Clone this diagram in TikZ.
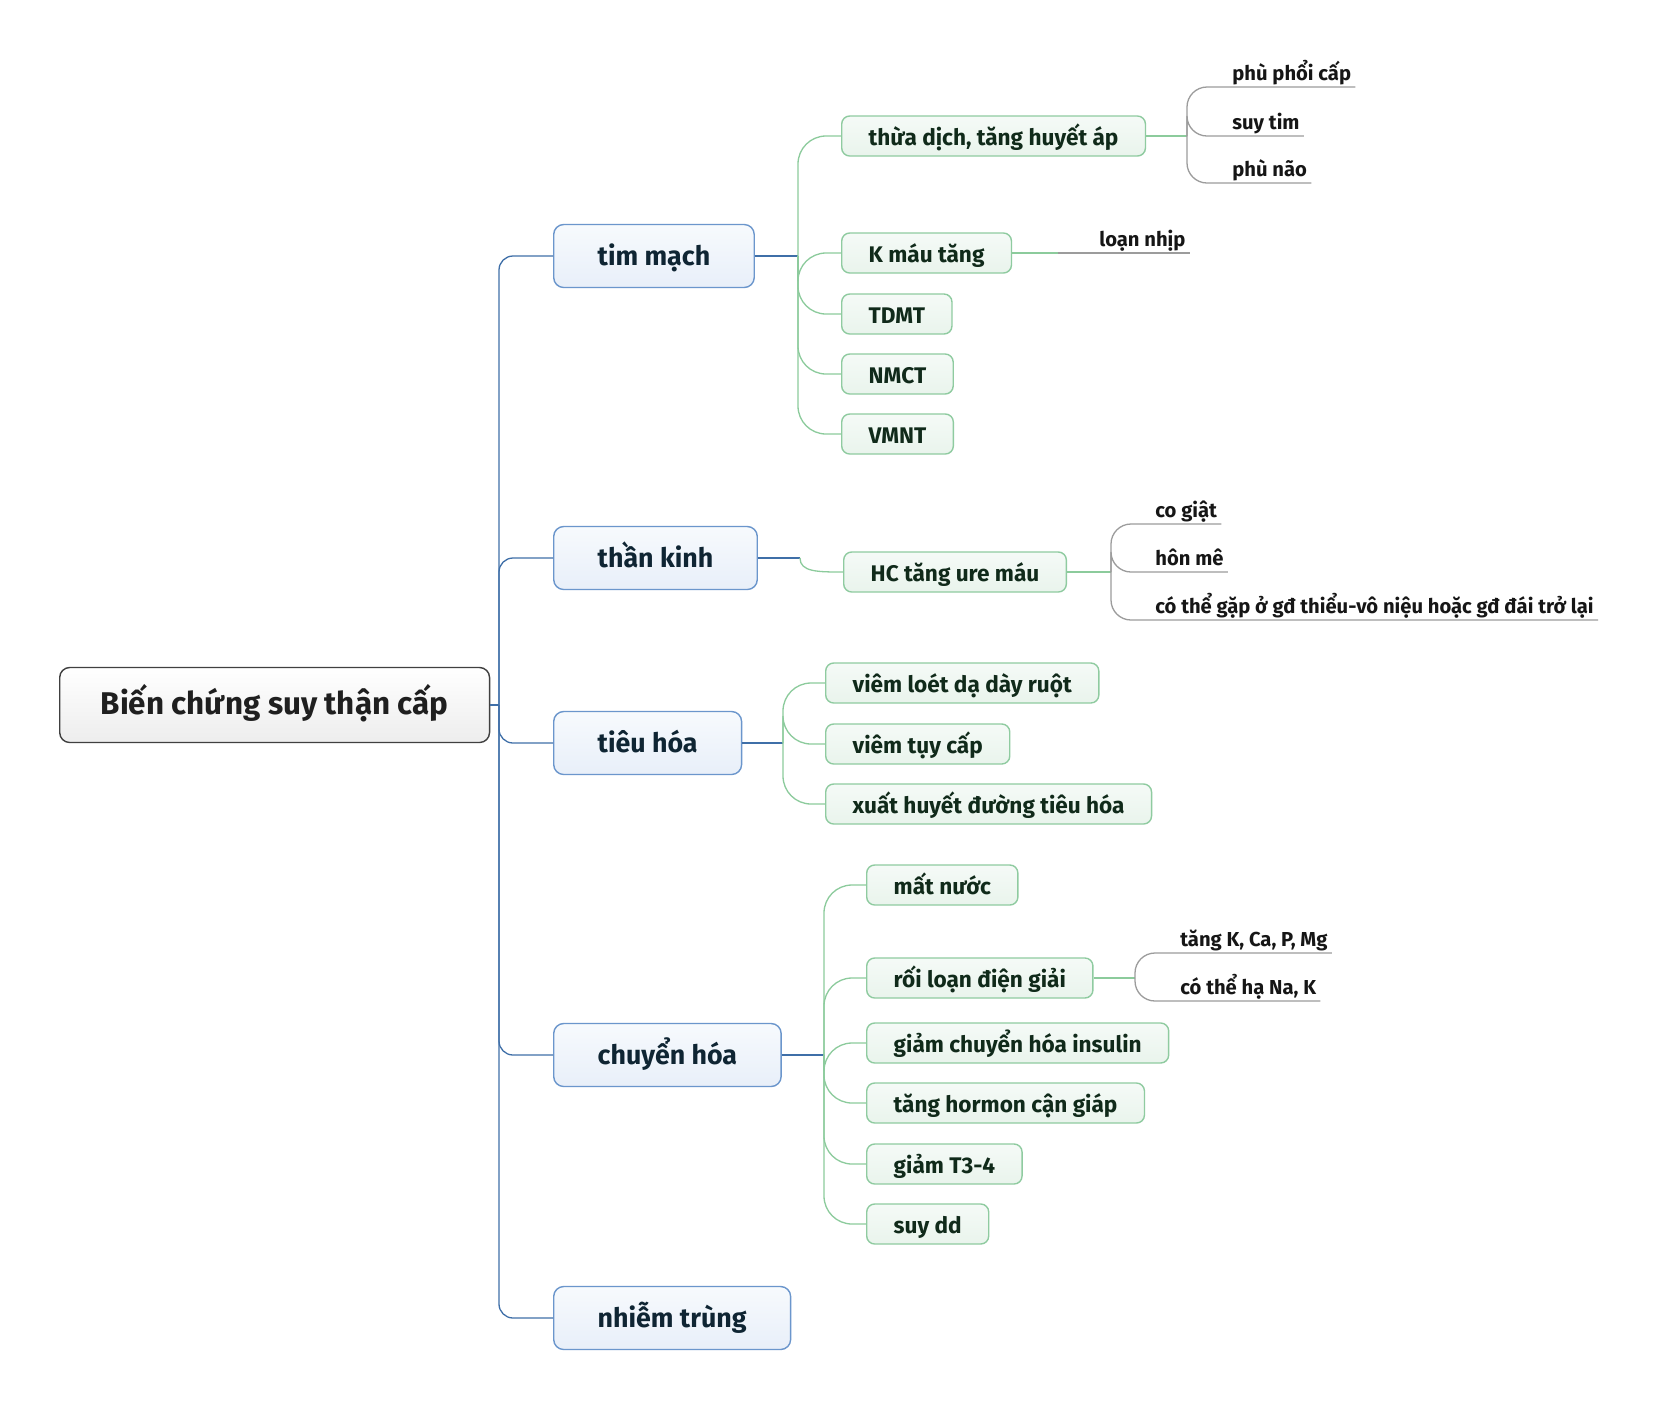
\documentclass[tikz,border=0pt]{standalone}
\usepackage{fontspec}
\setmainfont{Fira Sans}
\usetikzlibrary{positioning,calc}

\definecolor{rootline}{HTML}{404040}
\definecolor{rootfill}{HTML}{EDEDED}
\definecolor{roottext}{HTML}{1F1F1F}
\definecolor{mainline}{HTML}{6B96CC}
\definecolor{maintop}{HTML}{F7FAFD}
\definecolor{mainfill}{HTML}{E8EFF9}
\definecolor{maintext}{HTML}{0F2533}
\definecolor{bluelink}{HTML}{3F6FA8}
\definecolor{subline}{HTML}{8FCBA0}
\definecolor{subtop}{HTML}{F5FAF7}
\definecolor{subfill}{HTML}{E9F4EC}
\definecolor{subtext}{HTML}{102A1A}
\definecolor{greenlink}{HTML}{8CCB9C}
\definecolor{greylink}{HTML}{9C9C9C}
\definecolor{leaftext}{HTML}{161616}

\begin{document}
\begin{tikzpicture}[x=0.5pt, y=-0.5pt,
            every node/.style = {inner ysep=0pt, text height=0.9em, text depth=0pt},
            rootbox/.style = {draw=rootline, line width=0.7pt, rounded corners=5pt,
                    top color=white, bottom color=rootfill, minimum height=37.5pt,
                    inner xsep=20.5pt, font=\bfseries\fontsize{15.7}{19}\selectfont,
                    text=roottext, anchor=west},
            mainbox/.style = {draw=mainline, line width=0.7pt, rounded corners=5pt,
                    top color=maintop, bottom color=mainfill, minimum height=31.5pt,
                    inner xsep=22pt, font=\bfseries\fontsize{13.4}{16}\selectfont,
                    text=maintext, anchor=west},
            subbox/.style = {draw=subline, line width=0.7pt, rounded corners=4pt,
                    top color=subtop, bottom color=subfill, minimum height=20pt,
                    inner xsep=13.5pt, font=\bfseries\fontsize{11.3}{13}\selectfont,
                    text=subtext, anchor=west},
            leaf/.style = {inner xsep=0pt, inner ysep=1.5pt, text height=0.72em,
                    text depth=1.5pt, font=\bfseries\fontsize{10.1}{12}\selectfont,
                    text=leaftext, anchor=south west},
            blue link/.style = {draw=bluelink, line width=0.65pt, rounded corners=7pt},
            green link/.style = {draw=greenlink, line width=0.65pt, rounded corners=14pt},
            grey link/.style = {draw=greylink, line width=0.65pt, rounded corners=10pt},
        ]

        \fill[white] (0,0) rectangle (1662,1410);
        \useasboundingbox (0,0) rectangle (1662,1410);

        \node[rootbox] (root) at (59,705) {Biến chứng suy thận cấp};

        \node[mainbox] (tm) at (553,256) {tim mạch};
        \node[mainbox] (tk) at (553,558) {thần kinh};
        \node[mainbox] (th) at (553,743) {tiêu hóa};
        \node[mainbox] (ch) at (553,1055) {chuyển hóa};
        \node[mainbox] (nt) at (553,1318) {nhiễm trùng};

        \node[subbox] (td) at (841,136) {thừa dịch, tăng huyết áp};
        \node[subbox] (km) at (841,253) {K máu tăng};
        \node[subbox] (tdmt) at (841,314) {TDMT};
        \node[subbox] (nmct) at (841,374) {NMCT};
        \node[subbox] (vmnt) at (841,434) {VMNT};

        \node[subbox] (hc) at (843,572) {HC tăng ure máu};

        \node[subbox] (vl) at (825,683) {viêm loét dạ dày ruột};
        \node[subbox] (vt) at (825,744) {viêm tụy cấp};
        \node[subbox] (xh) at (825,804) {xuất huyết đường tiêu hóa};

        \node[subbox] (mn) at (866,885) {mất nước};
        \node[subbox] (rl) at (866,978) {rối loạn điện giải};
        \node[subbox] (gc) at (866,1043) {giảm chuyển hóa insulin};
        \node[subbox] (tg) at (866,1103) {tăng hormon cận giáp};
        \node[subbox] (gt) at (866,1164) {giảm T3-4};
        \node[subbox] (sd) at (866,1224) {suy dd};

        \node[leaf] (ppc) at (1232,87) {phù phổi cấp};
        \node[leaf] (st) at (1232,136) {suy tim};
        \node[leaf] (pn) at (1232,183) {phù não};
        \node[leaf] (ln) at (1099,253) {loạn nhịp};
        \node[leaf] (cg) at (1155,524) {co giật};
        \node[leaf] (hm) at (1155,572) {hôn mê};
        \node[leaf] (ct) at (1155,620) {có thể gặp ở gđ thiểu-vô niệu hoặc gđ đái trở lại};
        \node[leaf] (tk2) at (1180,953) {tăng K, Ca, P, Mg};
        \node[leaf] (hn) at (1180,1001) {có thể hạ Na, K};

        \coordinate (root-j) at (499,705);
        \coordinate (tm-j) at (798,256);
        \coordinate (tk-j) at (800,558);
        \coordinate (th-j) at (783,743);
        \coordinate (ch-j) at (824,1055);
        \coordinate (td-j) at (1187,136);
        \coordinate (km-j) at (1058,253);
        \coordinate (hc-j) at (1111,572);
        \coordinate (rl-j) at (1135,978);

        \foreach \p/\s in {root/blue, tm/blue, tk/blue, th/blue, ch/blue,
                td/green, km/green, hc/green, rl/green}
            {
                \draw[\s\space link] (\p.east) -- (\p-j);
            }

        \foreach \c in {tm,tk,th,ch,nt}
            {
                \draw[blue link] (root-j) |- (\c.west);
            }
        \foreach \c in {td,km,tdmt,nmct,vmnt}
            {
                \draw[green link] (tm-j) |- (\c.west);
            }
        \draw[green link] (tk-j) .. controls +(0,14) and +(-25,0) .. (hc.west);
        \foreach \c in {vl,vt,xh}
            {
                \draw[green link] (th-j) |- (\c.west);
            }
        \foreach \c in {mn,rl,gc,tg,gt,sd}
            {
                \draw[green link] (ch-j) |- (\c.west);
            }

        \draw[grey link] (km-j) -- ([xshift=2pt]ln.south east);
        \foreach \j/\l in {td/ppc, td/st, td/pn, hc/cg, hc/hm, hc/ct, rl/tk2, rl/hn}
            {
                \draw[grey link] (\j-j) |- (\l.south west) -- ([xshift=2pt]\l.south east);
            }
    \end{tikzpicture}
\end{document}
